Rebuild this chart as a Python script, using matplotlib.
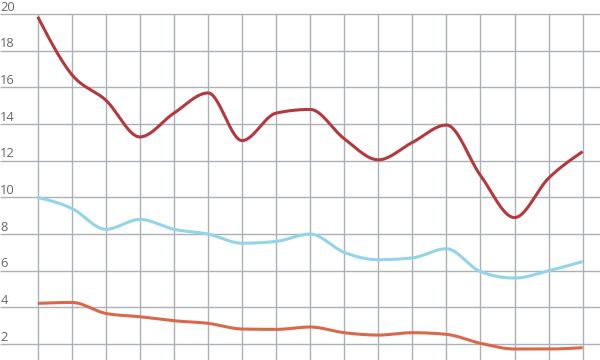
import matplotlib
matplotlib.use("Agg")
import matplotlib.pyplot as plt
import numpy as np

x = np.arange(17)
red = [19.85, 16.7, 15.3, 13.3, 14.6, 15.7, 13.1, 14.6, 14.8, 13.2, 12.05,
       13.0, 13.95, 11.2, 8.9, 11.05, 12.5]
blue = [10.0, 9.4, 8.26, 8.8, 8.26, 8.0, 7.5, 7.6, 8.0, 7.0, 6.6,
        6.7, 7.2, 5.95, 5.6, 6.0, 6.5]
orange = [4.22, 4.27, 3.67, 3.49, 3.27, 3.13, 2.82, 2.8, 2.93, 2.62, 2.49,
          2.62, 2.53, 2.04, 1.73, 1.73, 1.8]
yticks = [2, 4, 6, 8, 10, 12, 14, 16, 18, 20]


def monotone(xs, ys, n=30):
    # monotone cubic (like d3 curveMonotoneX), drawn as bezier pieces
    xs = np.asarray(xs, float)
    ys = np.asarray(ys, float)
    h = np.diff(xs)
    s = np.diff(ys) / h
    t = np.zeros(len(xs))
    for i in range(1, len(xs) - 1):
        p = (s[i - 1] * h[i] + s[i] * h[i - 1]) / (h[i - 1] + h[i])
        t[i] = (np.sign(s[i - 1]) + np.sign(s[i])) * min(abs(s[i - 1]), abs(s[i]), 0.5 * abs(p))
    t[0] = (3 * s[0] - t[1]) / 2
    t[-1] = (3 * s[-1] - t[-2]) / 2
    px, py = [], []
    u = np.linspace(0, 1, n)
    for i in range(len(xs) - 1):
        dx = h[i] / 3
        p0 = (xs[i], ys[i])
        p1 = (xs[i] + dx, ys[i] + dx * t[i])
        p2 = (xs[i + 1] - dx, ys[i + 1] - dx * t[i + 1])
        p3 = (xs[i + 1], ys[i + 1])
        bx = (1 - u) ** 3 * p0[0] + 3 * (1 - u) ** 2 * u * p1[0] + 3 * (1 - u) * u ** 2 * p2[0] + u ** 3 * p3[0]
        by = (1 - u) ** 3 * p0[1] + 3 * (1 - u) ** 2 * u * p1[1] + 3 * (1 - u) * u ** 2 * p2[1] + u ** 3 * p3[1]
        px.extend(bx)
        py.extend(by)
    return px, py


fig = plt.figure(figsize=(6, 3.6), dpi=100)
ax = fig.add_axes([0, 0, 1, 1])
x0, x1 = -1.11, 16.51
y0, y1 = 1.13, 20.77
ax.set_xlim(x0, x1)
ax.set_ylim(y0, y1)
ax.axis("off")

grid = "#acb1b6"
ax.hlines(yticks, x0, x1, color=grid, lw=1, zorder=1)
ax.vlines(x, y0, 20, color=grid, lw=1, zorder=1)
for v in yticks:
    ax.text(x0 + 0.01, v + 0.38, str(v), ha="left", va="center",
            fontsize=9.3, color="#666666", family="Open Sans")

for ys, c in [(red, "#b5383d"), (blue, "#93d4e9"), (orange, "#d9694a")]:
    px, py = monotone(x, ys)
    ax.plot(px, py, color=c, lw=2.2, solid_capstyle="butt", zorder=3)

plt.savefig("out.png", dpi=100)
